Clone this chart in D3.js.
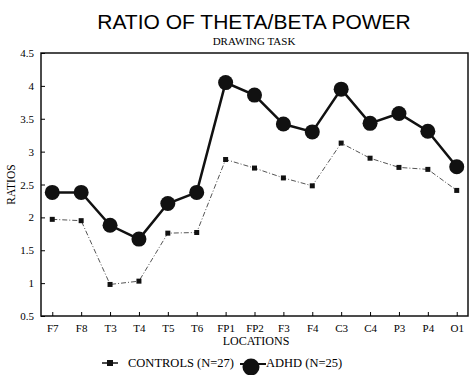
<!DOCTYPE html>
<html>
<head>
<meta charset="utf-8">
<script src="https://cdn.jsdelivr.net/npm/d3@7"></script>
<style>
  body { margin: 0; background: #fff; }
  svg { display: block; }
</style>
</head>
<body>
<script>
// locations along x, and the two series
const locations = ["F7","F8","T3","T4","T5","T6","FP1","FP2","F3","F4","C3","C4","P3","P4","O1"];
const controls = [1.97,1.95,0.98,1.03,1.76,1.77,2.88,2.75,2.60,2.48,3.13,2.90,2.76,2.73,2.41];
const adhd = [2.38,2.38,1.88,1.67,2.21,2.38,4.05,3.86,3.42,3.30,3.95,3.43,3.58,3.31,2.77];
const yTicks = [0.5,1,1.5,2,2.5,3,3.5,4,4.5];

const width = 475, height = 375;
const margin = {top: 53, right: 7, bottom: 59, left: 41};

const svg = d3.select("body").append("svg")
  .attr("width", width)
  .attr("height", height);

let x = d3.scalePoint()
  .domain(locations)
  .range([margin.left, width - margin.right])
  .padding(0.39);

let y = d3.scaleLinear()
  .domain([0.5, 4.5])
  .range([height - margin.bottom, margin.top]);

const serif = "Liberation Serif, Times New Roman, DejaVu Serif, serif";

// titles
svg.append("text")
  .attr("x", 254).attr("y", 29)
  .attr("text-anchor", "middle")
  .attr("font-family", "Liberation Sans, Arial, sans-serif")
  .attr("font-size", 21)
  .text("RATIO OF THETA/BETA POWER");

svg.append("text")
  .attr("x", 254).attr("y", 45)
  .attr("text-anchor", "middle")
  .attr("font-family", serif)
  .attr("font-size", 11)
  .text("DRAWING TASK");

// frame
svg.append("rect")
  .attr("x", margin.left).attr("y", margin.top)
  .attr("width", width - margin.left - margin.right)
  .attr("height", height - margin.top - margin.bottom)
  .attr("fill", "none")
  .attr("stroke", "#111")
  .attr("stroke-width", 1.5);

// y axis (ticks inside)
const yAxis = svg.append("g")
  .attr("transform", "translate(" + margin.left + ",0)")
  .call(d3.axisRight(y).tickValues(yTicks).tickSize(4).tickFormat(d3.format("")))
  .attr("font-family", serif)
  .attr("font-size", 11);
yAxis.select(".domain").remove();
yAxis.selectAll("text")
  .attr("x", -7)
  .attr("text-anchor", "end");

// x axis (ticks inside, pointing up)
const xAxis = svg.append("g")
  .attr("transform", "translate(0," + (height - margin.bottom) + ")")
  .call(d3.axisTop(x).tickSize(4))
  .attr("font-family", serif)
  .attr("font-size", 11);
xAxis.select(".domain").remove();
xAxis.selectAll("text")
  .attr("y", 8)
  .attr("dy", "0.71em");

// axis titles
svg.append("text")
  .attr("transform", "translate(15," + y(2.5) + ") rotate(-90)")
  .attr("text-anchor", "middle")
  .attr("font-family", serif)
  .attr("font-size", 11.5)
  .text("RATIOS");

svg.append("text")
  .attr("x", 256).attr("y", 345)
  .attr("text-anchor", "middle")
  .attr("font-family", serif)
  .attr("font-size", 12)
  .text("LOCATIONS");

// lines
let line = d3.line()
  .x(function(d, i) { return x(locations[i]); })
  .y(function(d) { return y(d); });

svg.append("path")
  .datum(controls)
  .attr("d", line)
  .attr("fill", "none")
  .attr("stroke", "#555")
  .attr("stroke-width", 1)
  .attr("stroke-dasharray", "5,2,1,2");

svg.selectAll(".ctl")
  .data(controls)
  .enter().append("rect")
  .attr("class", "ctl")
  .attr("x", function(d, i) { return x(locations[i]) - 2.5; })
  .attr("y", function(d) { return y(d) - 2.5; })
  .attr("width", 5).attr("height", 5)
  .attr("fill", "#111");

svg.append("path")
  .datum(adhd)
  .attr("d", line)
  .attr("fill", "none")
  .attr("stroke", "#111")
  .attr("stroke-width", 2.5);

svg.selectAll(".adhd")
  .data(adhd)
  .enter().append("circle")
  .attr("class", "adhd")
  .attr("cx", function(d, i) { return x(locations[i]); })
  .attr("cy", function(d) { return y(d); })
  .attr("r", 7.5)
  .attr("fill", "#111");

// legend
const leg = svg.append("g").attr("font-family", serif).attr("font-size", 12.5);
leg.append("line").attr("x1", 102).attr("x2", 118).attr("y1", 363).attr("y2", 363)
  .attr("stroke", "#111").attr("stroke-width", 1.5);
leg.append("rect").attr("x", 107).attr("y", 360).attr("width", 6).attr("height", 6).attr("fill", "#111");
leg.append("text").attr("x", 128).attr("y", 367).text("CONTROLS (N=27)");
leg.append("line").attr("x1", 240).attr("x2", 266).attr("y1", 364).attr("y2", 364)
  .attr("stroke", "#111").attr("stroke-width", 2);
leg.append("circle").attr("cx", 251).attr("cy", 367).attr("r", 8.5).attr("fill", "#111");
leg.append("text").attr("x", 266).attr("y", 367).text("ADHD (N=25)");
</script>
</body>
</html>
